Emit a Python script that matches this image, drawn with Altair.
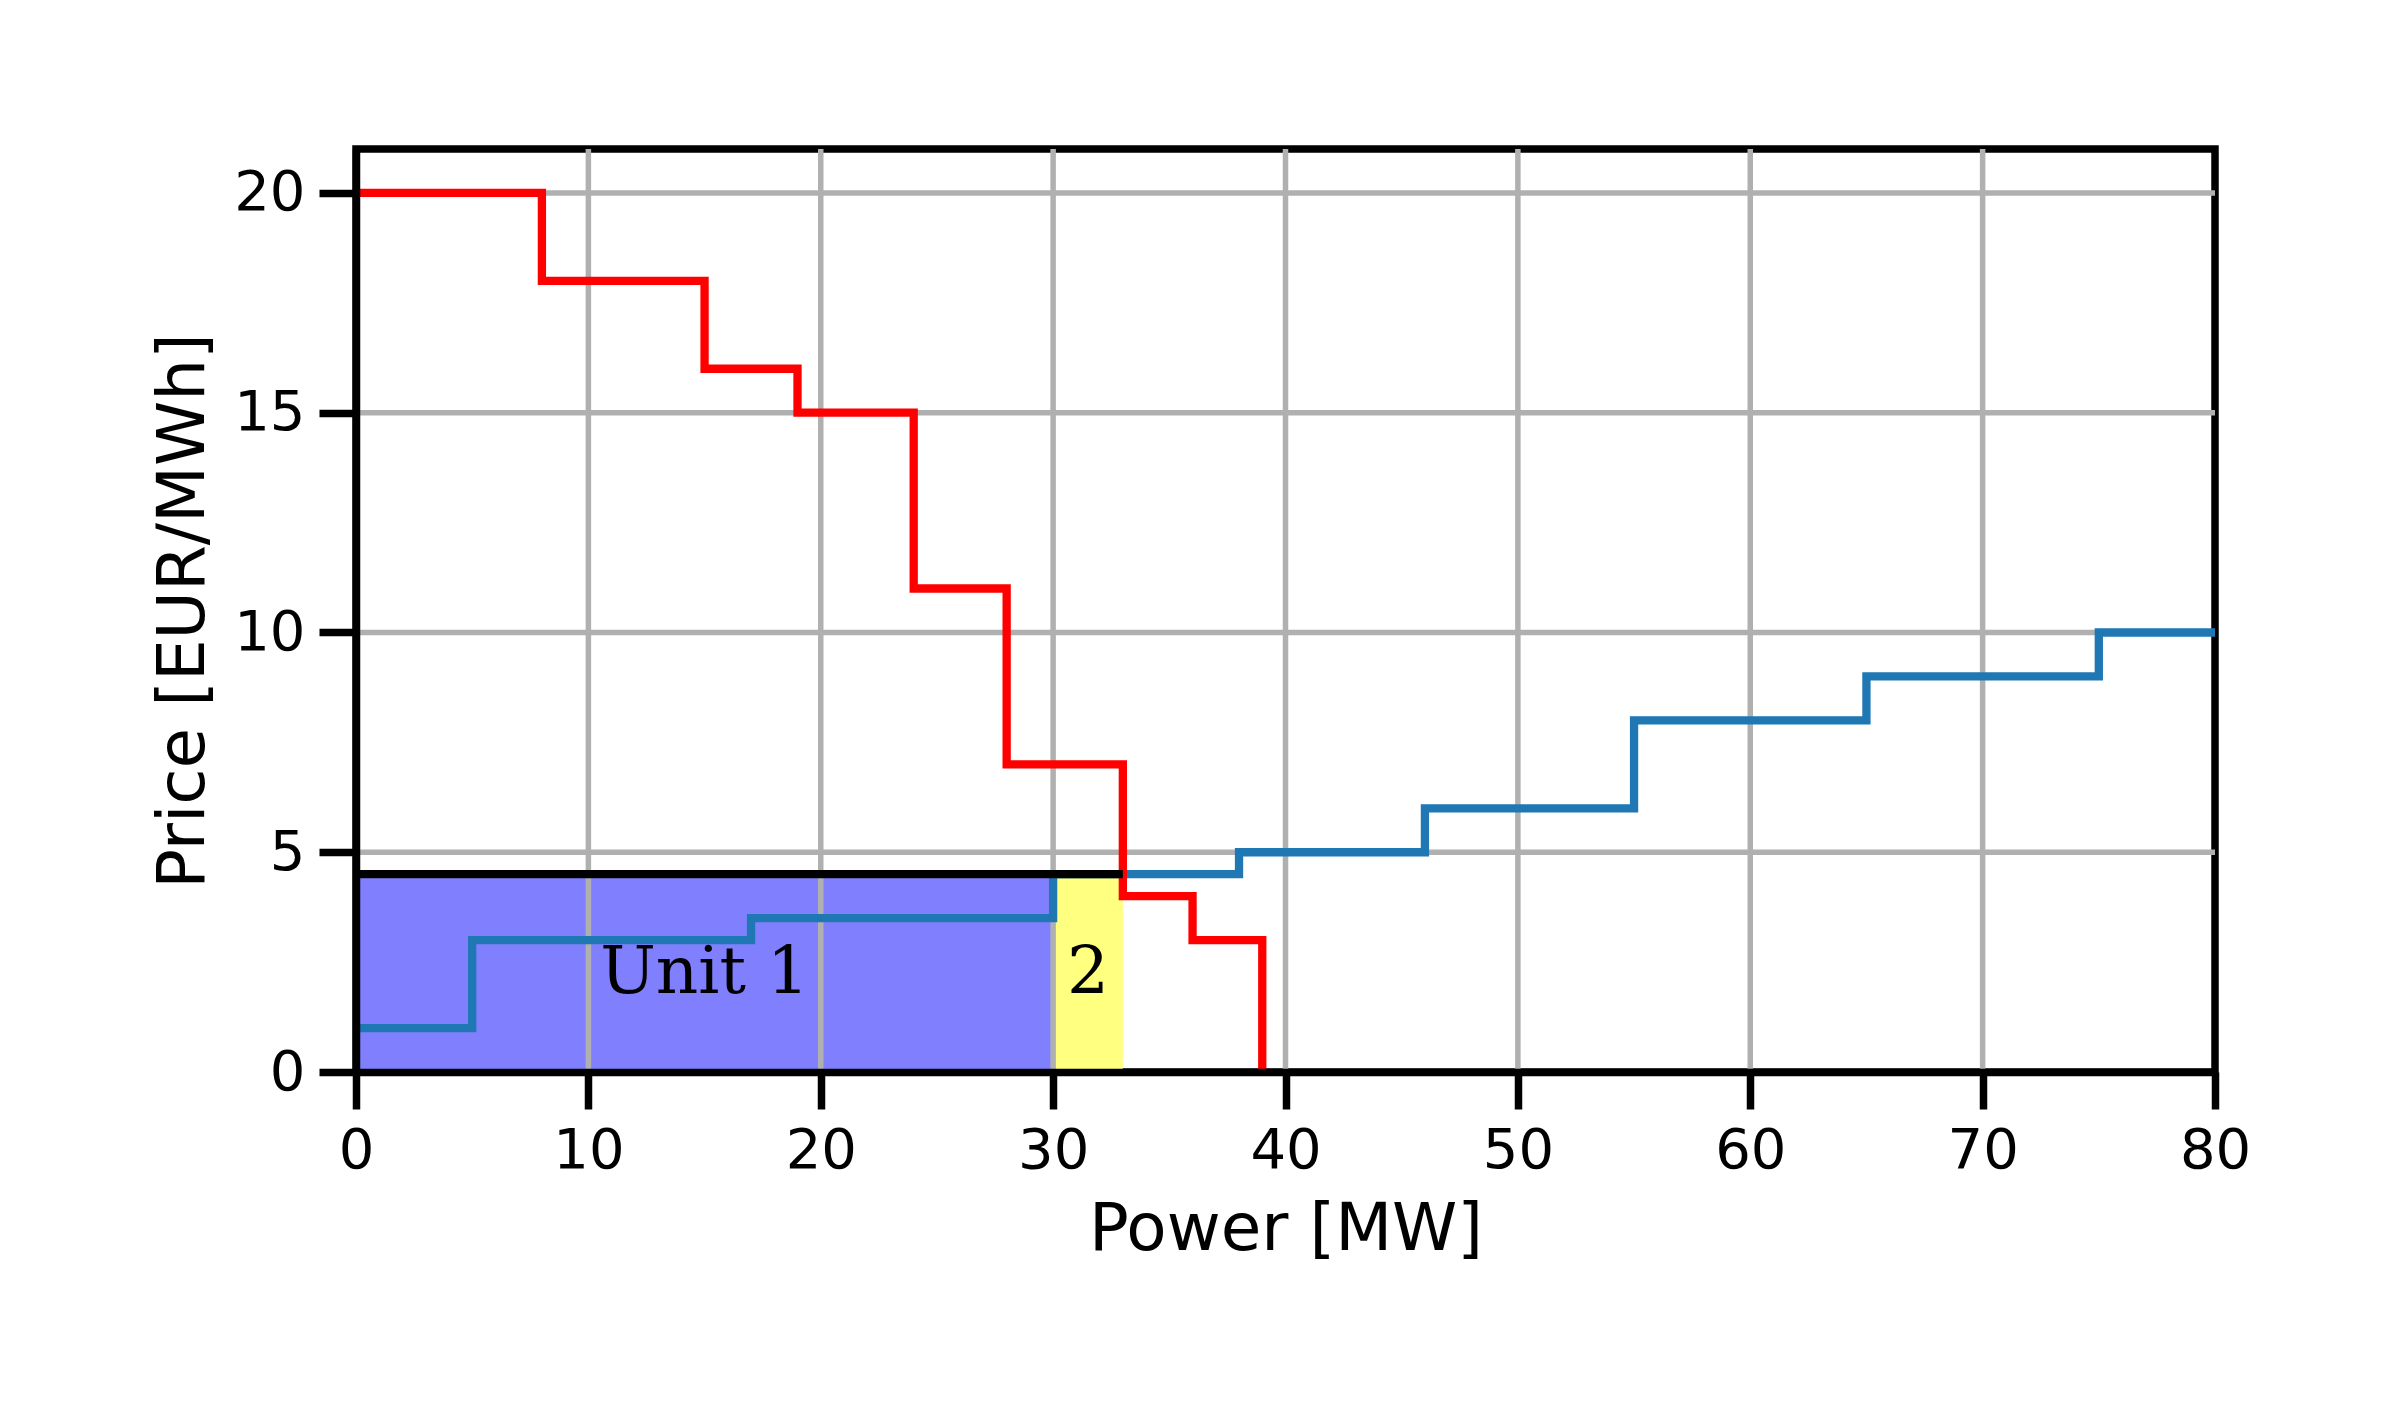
import altair as alt
import pandas as pd

# Demand (bids) step curve: quantity breakpoints and prices
demand_q = [0, 8, 15, 19, 24, 28, 33, 36, 39]
demand_p = [20, 18, 16, 15, 11, 7, 4, 3, 0]

# Supply (offers) step curve
supply_q = [0, 5, 17, 30, 38, 46, 55, 65, 75, 80]
supply_p = [1, 3, 3.5, 4.5, 5, 6, 8, 9, 10, 10]

# Accepted units
unit_labels = ["Unit 1", "2"]
unit_start = [0, 30]
unit_end = [30, 33]
unit_colors = ["#8080ff", "#ffff80"]
label_price = 2.25

clearing_price = 4.5
clearing_quantity = 33

x_ticks = [0, 10, 20, 30, 40, 50, 60, 70, 80]
y_ticks = [0, 5, 10, 15, 20]

X_DOMAIN = [0, 80]
Y_DOMAIN = [0, 21]

demand_df = pd.DataFrame({"q": demand_q, "p": demand_p})
supply_df = pd.DataFrame({"q": supply_q, "p": supply_p})
units_df = pd.DataFrame({
    "label": unit_labels,
    "q0": unit_start,
    "q1": unit_end,
    "p0": [0] * len(unit_labels),
    "p1": [clearing_price] * len(unit_labels),
    "color": unit_colors,
    "qm": [(a + b) / 2 for a, b in zip(unit_start, unit_end)],
    "pm": [label_price] * len(unit_labels),
})
clear_df = pd.DataFrame({"q0": [0], "q1": [clearing_quantity], "p": [clearing_price]})
# grid lines at the interior ticks (the frame covers the ones on the edges)
xgrid_df = pd.DataFrame({"v": [t for t in x_ticks if X_DOMAIN[0] < t < X_DOMAIN[1]]})
ygrid_df = pd.DataFrame({"v": [t for t in y_ticks if Y_DOMAIN[0] < t < Y_DOMAIN[1]]})

xs = alt.Scale(domain=X_DOMAIN, nice=False, zero=False)
ys = alt.Scale(domain=Y_DOMAIN, nice=False, zero=False)

FONT = "DejaVu Sans"
FRAME_W = 7.5
LINE_W = 8.3
GRID_W = 5.5

common_axis = dict(
    grid=False, domain=True, domainColor="black", domainWidth=FRAME_W,
    tickColor="black", tickWidth=FRAME_W, tickSize=37,
    labelFont=FONT, labelFontSize=56, labelColor="black", labelPadding=14,
    titleFont=FONT, titleFontSize=66, titleFontWeight="normal",
    titleColor="black", zindex=1, labelFlush=False,
)
x_axis = alt.Axis(title="Power [MW]", values=x_ticks, titlePadding=19, **common_axis)
y_axis = alt.Axis(title="Price [EUR/MWh]", values=y_ticks, titlePadding=16, **common_axis)

rects = alt.Chart(units_df).mark_rect(strokeWidth=0).encode(
    x=alt.X("q0:Q", scale=xs, axis=x_axis),
    x2="q1:Q",
    y=alt.Y("p0:Q", scale=ys, axis=y_axis),
    y2="p1:Q",
    color=alt.Color("color:N", scale=None),
)

vgrid = alt.Chart(xgrid_df).mark_rule(color="#b0b0b0", strokeWidth=GRID_W).encode(
    x=alt.X("v:Q", scale=xs)
)
hgrid = alt.Chart(ygrid_df).mark_rule(color="#b0b0b0", strokeWidth=GRID_W).encode(
    y=alt.Y("v:Q", scale=ys)
)

supply = alt.Chart(supply_df).mark_line(
    interpolate="step-after", color="#1f77b4", strokeWidth=LINE_W,
    strokeJoin="miter", strokeCap="butt"
).encode(x=alt.X("q:Q", scale=xs), y=alt.Y("p:Q", scale=ys))

demand = alt.Chart(demand_df).mark_line(
    interpolate="step-after", color="#ff0000", strokeWidth=LINE_W,
    strokeJoin="miter", strokeCap="butt"
).encode(x=alt.X("q:Q", scale=xs), y=alt.Y("p:Q", scale=ys))

clear = alt.Chart(clear_df).mark_rule(color="black", strokeWidth=LINE_W).encode(
    x=alt.X("q0:Q", scale=xs), x2="q1:Q", y=alt.Y("p:Q", scale=ys)
)

labels = alt.Chart(units_df).mark_text(
    font="DejaVu Serif", fontSize=66, color="black", align="center", baseline="middle"
).encode(x=alt.X("qm:Q", scale=xs), y=alt.Y("pm:Q", scale=ys), text="label:N")

chart = alt.layer(rects, vgrid, hgrid, supply, demand, clear, labels).properties(
    width=1859, height=923,
    autosize=alt.AutoSizeParams(type="none"),
    padding={"left": 348, "top": 141, "right": 150, "bottom": 220},
    background="white",
).configure_view(stroke="black", strokeWidth=FRAME_W)

chart.save("out.html", embed_options={"renderer": "svg", "actions": False})
